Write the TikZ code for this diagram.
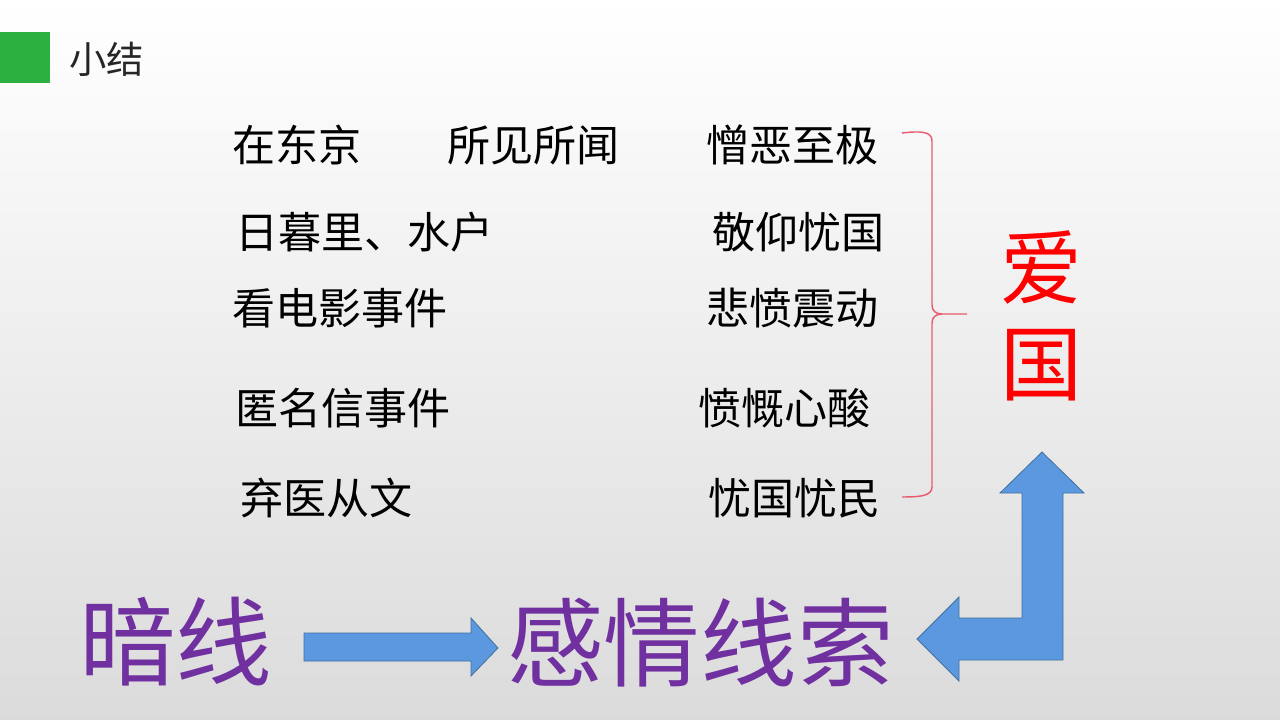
\documentclass[tikz,border=0pt]{standalone}
\usepackage{fontspec}
\setmainfont{Noto Sans CJK SC}
\usepackage{tikz}

\definecolor{slidegreen}{RGB}{44,176,64}
\definecolor{linepurple}{RGB}{112,48,160}
\definecolor{arrowblue}{RGB}{91,152,224}
\definecolor{arrowedge}{RGB}{65,113,156}
\definecolor{bracered}{RGB}{232,92,112}

\tikzset{
  rowtext/.style={anchor=west,inner sep=0pt,font=\fontsize{32.3}{32.3}\selectfont},
  bigtext/.style={anchor=west,inner sep=0pt,text=linepurple,font=\fontsize{72.5}{72.5}\selectfont},
  blockarrow/.style={fill=arrowblue,draw=arrowedge,line width=0.6pt,line join=miter}
}

\begin{document}
\begin{tikzpicture}[x=0.75pt,y=-0.75pt]
      \shade[top color=white,bottom color=black!14] (0,0) rectangle (1280,720);
      \useasboundingbox (0,0) rectangle (1280,720);
      % title bar
      \fill[slidegreen] (0,32) rectangle (50,83);
      \node[anchor=west,inner sep=0pt,text=black!85,font=\fontsize{28}{28}\selectfont] (title) at (69,59) {小结};
      % events and feelings
      \node[rowtext] (dongjing) at (232,145) {在东京};
      \node[rowtext] (suojian) at (447,145) {所见所闻};
      \node[rowtext] (zengwu) at (706,145) {憎恶至极};
      \node[rowtext] (rimuli) at (235,232) {日暮里、水户};
      \node[rowtext] (jingyang) at (712,232) {敬仰忧国};
      \node[rowtext] (dianying) at (232,308) {看电影事件};
      \node[rowtext] (beifen) at (706,308) {悲愤震动};
      \node[rowtext] (niming) at (235,408) {匿名信事件};
      \node[rowtext] (fenkai) at (698,408) {愤慨心酸};
      \node[rowtext] (qiyi) at (240,498) {弃医从文};
      \node[rowtext] (youmin) at (708,498) {忧国忧民};
      % brace
      \draw[bracered,line width=1.1pt] (902,133) .. controls (920,131) and (932,131) .. (932,141) -- (932,305)
            .. controls (932,311) and (936,314) .. (942,314) -- (967,314);
      \draw[bracered,line width=1.1pt] (942,314) .. controls (936,314) and (932,317) .. (932,323) -- (932,487)
            .. controls (932,496) and (920,497) .. (902,497);
      \node[inner sep=0pt,align=center,text=red,font=\fontsize{61.5}{72}\selectfont] (aiguo) at (1041,316) {爱\\国};
      % bottom line
      \node[bigtext] (anxian) at (79,642) {暗线};
      \node[bigtext] (qinggan) at (507,643) {感情线索};
      \draw[blockarrow] (304,633) -- (471,633) -- (471,618) -- (498,648) -- (471,676) -- (471,661) -- (304,661) -- cycle;
      \draw[blockarrow] (1042,452) -- (1084,493) -- (1063,493) -- (1063,660) -- (959,660) -- (959,681) -- (917,639)
            -- (959,597) -- (959,618) -- (1022,618) -- (1022,493) -- (1000,493) -- cycle;
\end{tikzpicture}
\end{document}
